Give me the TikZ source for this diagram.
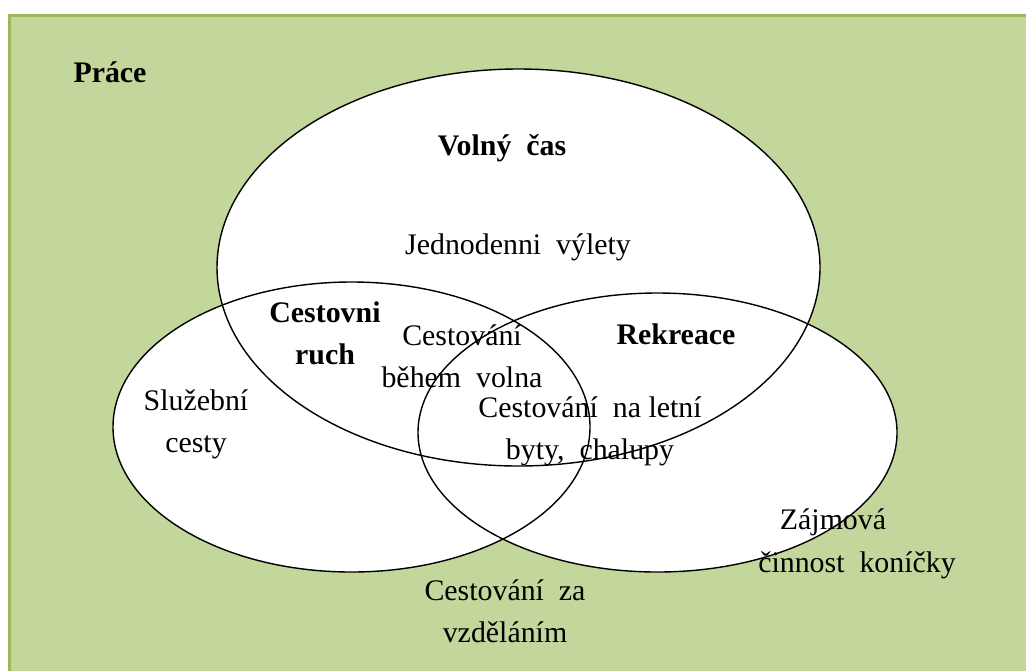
\documentclass[tikz,border=0pt]{standalone}
\usepackage{fontspec}
\setmainfont{Liberation Serif}
\definecolor{pracegreen}{HTML}{C3D69B}
\definecolor{praceborder}{HTML}{9BBB59}

\begin{document}
\begin{tikzpicture}[x=0.02cm,y=-0.02cm,
  txt/.style={align=center,inner sep=0pt,font=\fontsize{17}{24}\selectfont},
  btxt/.style={align=center,inner sep=0pt,font=\fontsize{17}{24}\selectfont\bfseries}]
\useasboundingbox (0,0) rectangle (1026,670);
\draw[praceborder,line width=1.3pt,fill=pracegreen] (9.5,15.5) rectangle (1040,690);
% the three sets
\fill[white] (518.5,267.5) ellipse [x radius=301.5,y radius=198.5]
  (351.5,427) ellipse [x radius=238.5,y radius=145]
  (657.5,432.5) ellipse [x radius=239.5,y radius=139.5];
\draw[line width=0.8pt] (518.5,267.5) ellipse [x radius=301.5,y radius=198.5];
\draw[line width=0.8pt] (351.5,427) ellipse [x radius=238.5,y radius=145];
\draw[line width=0.8pt] (657.5,432.5) ellipse [x radius=239.5,y radius=139.5];
% labels
\node[btxt] (prace) at (110,72) {Práce};
\node[btxt] (volny) at (502,148) {Volný\ \ čas};
\node[txt] (vylety) at (518,247) {Jednodenni\ \ výlety};
\node[btxt] (ruch) at (325,333) {Cestovni\\ruch};
\node[txt] (volna) at (462,356) {Cestování\\během\ \ volna};
\node[btxt] (rekreace) at (676,334) {Rekreace};
\node[txt] (chalupy) at (590,431) {Cestování\ \ na letní\\byty,\ \ chalupy};
\node[txt] (sluzebni) at (196,424) {Služební\\cesty};
\node[txt] (zajmova) at (833,522) {Zájmová};
\node[txt] (cinnost) at (857,565) {činnost\ \ koníčky};
\node[txt] (vzdelani) at (505,611) {Cestování\ \ za\\vzděláním};
\end{tikzpicture}
\end{document}
